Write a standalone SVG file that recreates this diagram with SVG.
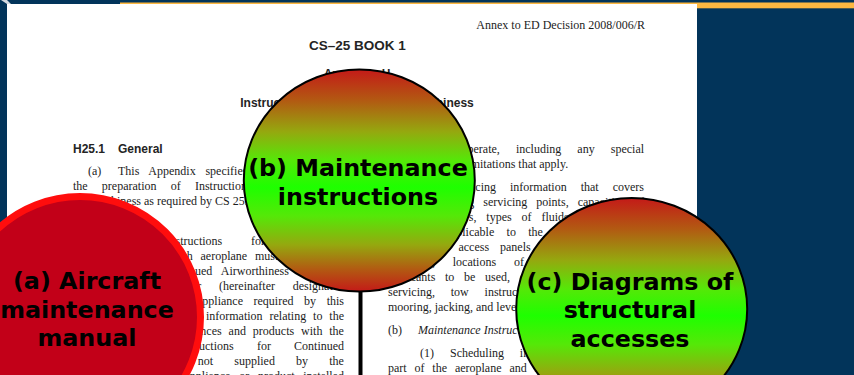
<svg xmlns="http://www.w3.org/2000/svg" width="854" height="375" viewBox="0 0 854 375">
  <defs>
    <linearGradient id="redGreen" x1="0" y1="0" x2="0" y2="1">
      <stop offset="0" stop-color="#c41a18"/>
      <stop offset="0.14" stop-color="#b25a12"/>
      <stop offset="0.28" stop-color="#95a80f"/>
      <stop offset="0.41" stop-color="#55e808"/>
      <stop offset="0.53" stop-color="#1eff00"/>
      <stop offset="0.66" stop-color="#55e808"/>
      <stop offset="0.79" stop-color="#95a80f"/>
      <stop offset="0.9" stop-color="#b25a12"/>
      <stop offset="1" stop-color="#c41a18"/>
    </linearGradient>
  </defs>
  <style>
    .doc { font-family: "Liberation Serif", "Times New Roman", serif; font-size: 12px; fill: #1c1c1c; }
    .docsans { font-family: "Liberation Sans", Arial, sans-serif; font-weight: bold; fill: #242424; }
    .it { font-style: italic; }
    .label { font-family: "DejaVu Sans", Verdana, sans-serif; font-weight: bold; font-size: 23.8px; fill: #000; text-anchor: middle; }
    .grad { fill: url(#redGreen); stroke: #000; stroke-width: 2; }
  </style>

  <!-- slide background -->
  <rect x="0" y="0" width="854" height="375" fill="#02345a"/>
  <rect x="120" y="2.5" width="734" height="5.8" fill="#fdb841"/>
  <path d="M1,0 L7,0 L11,4 L7,4 Z" fill="#d3d9e0"/>

  <!-- scanned document page -->
  <g id="page">
    <rect x="7" y="4" width="690" height="371" fill="#ffffff"/>
    <text class="doc" x="645" y="29" font-size="10" text-anchor="end">Annex to ED Decision 2008/006/R</text>
    <text class="docsans" x="357.5" y="50" font-size="13.5" text-anchor="middle">CS–25 BOOK 1</text>
    <text class="docsans" x="357" y="78" font-size="12" text-anchor="middle">Appendix H</text>
    <text class="docsans" x="357" y="107" font-size="12" text-anchor="middle">Instructions for Continued Airworthiness</text>
    <text class="docsans" x="73" y="153" font-size="12">H25.1</text>
    <text class="docsans" x="118" y="153" font-size="12">General</text>

    <!-- left column -->
    <text class="doc" x="88" y="175">(a)</text>
    <text class="doc" x="118" y="175" word-spacing="6.7">This Appendix specifies requirements for</text>
    <text class="doc" x="73" y="190" word-spacing="11.2">the preparation of Instructions for Continued</text>
    <text class="doc" x="73" y="205">Airworthiness as required by CS 25.1529.</text>

    <text class="doc" x="88" y="245">(b)</text>
    <text class="doc" x="118" y="245" word-spacing="25.9">The Instructions for Continued</text>
    <text class="doc" x="73" y="260" word-spacing="4.85">Airworthiness for each aeroplane must include the</text>
    <text class="doc" x="73" y="274.5" word-spacing="6.28">Instructions for Continued Airworthiness for each</text>
    <text class="doc" x="73" y="289.5" word-spacing="14.8">engine and propeller (hereinafter designated</text>
    <text class="doc" x="73" y="304.5" word-spacing="7.57">‘products’), for each appliance required by this</text>
    <text class="doc" x="73" y="319.5" word-spacing="3.91">CS-25 and any required information relating to the</text>
    <text class="doc" x="73" y="334.5" word-spacing="3.91">interface of those appliances and products with the</text>
    <text class="doc" x="73" y="349.5" word-spacing="20.2">aeroplane. If Instructions for Continued</text>
    <text class="doc" x="73" y="364.5" word-spacing="18.1">Airworthiness are not supplied by the</text>
    <text class="doc" x="73" y="379.5" word-spacing="5.73">manufacturer of an appliance or product installed</text>

    <!-- right column -->
    <text class="doc" x="388" y="153" word-spacing="13.1">how they operate, including any special</text>
    <text class="doc" x="388" y="168">procedures and limitations that apply.</text>
    <text class="doc" x="420" y="191">(4)</text>
    <text class="doc" x="450" y="191" word-spacing="11">Servicing information that covers</text>
    <text class="doc" x="388" y="206" word-spacing="6">details regarding servicing points, capacities of</text>
    <text class="doc" x="388" y="221" word-spacing="6.86">tanks, reservoirs, types of fluids to be used,</text>
    <text class="doc" x="388" y="236" word-spacing="9.3">pressures applicable to the various systems,</text>
    <text class="doc" x="388" y="251" word-spacing="7.9">location of access panels for inspection and</text>
    <text class="doc" x="388" y="266" word-spacing="14.8">servicing, locations of lubrication points,</text>
    <text class="doc" x="388" y="281" word-spacing="6.7">lubricants to be used, equipment required for</text>
    <text class="doc" x="388" y="296" word-spacing="12.8">servicing, tow instructions and limitations,</text>
    <text class="doc" x="388" y="311">mooring, jacking, and levelling information.</text>
    <text class="doc" x="388" y="334">(b)</text>
    <text class="doc it" x="418" y="334">Maintenance Instructions.</text>
    <text class="doc" x="420" y="357">(1)</text>
    <text class="doc" x="450" y="357" word-spacing="12.8">Scheduling information for each</text>
    <text class="doc" x="388" y="372" word-spacing="4.86">part of the aeroplane and its engines, auxiliary</text>
  </g>

  <g id="connectors">
    <line x1="360.5" y1="280" x2="360.5" y2="375" stroke="#000" stroke-width="4"/>
  </g>

  <g id="node-a">
    <circle cx="80" cy="317" r="120.5" fill="#c20018" stroke="#ff0d0d" stroke-width="7"/>
    <text class="label" x="87" y="289">(a) Aircraft</text>
    <text class="label" x="87" y="317.5">maintenance</text>
    <text class="label" x="87" y="346">manual</text>
  </g>

  <g id="node-b">
    <ellipse class="grad" cx="359.3" cy="180.5" rx="115.5" ry="111"/>
    <text class="label" x="358" y="176">(b) Maintenance</text>
    <text class="label" x="358" y="204.5">instructions</text>
  </g>

  <g id="node-c">
    <ellipse class="grad" cx="631.7" cy="309" rx="115.5" ry="111"/>
    <text class="label" x="630" y="289.5">(c) Diagrams of</text>
    <text class="label" x="630" y="318">structural</text>
    <text class="label" x="630" y="346.5">accesses</text>
  </g>
</svg>
